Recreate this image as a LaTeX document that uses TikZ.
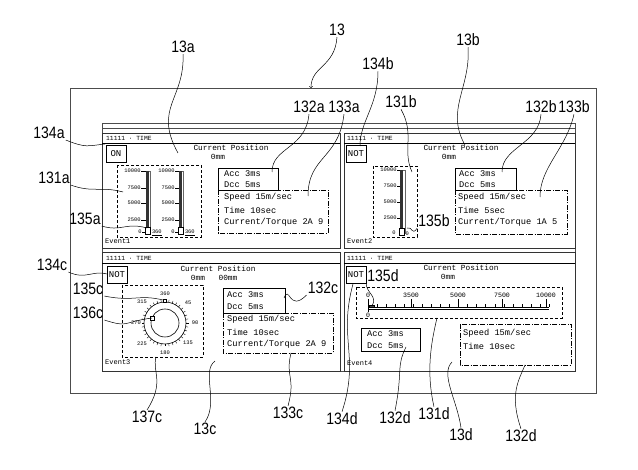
\documentclass[tikz,border=0pt]{standalone}
\usepackage{fontspec}
\setmainfont{Liberation Sans}
\setmonofont{Liberation Mono}
\newfontfamily\lblfont[FakeStretch=0.85]{Liberation Sans}
\begin{document}
\begin{tikzpicture}[x=1pt,y=-1pt,
    lbl/.style={font=\lblfont\fontsize{16.5}{16.5}\selectfont, inner sep=1pt},
    lead/.style={line width=0.5pt},
    frame/.style={line width=0.9pt, black!70},
    win/.style={line width=0.8pt, black!80},
    ttl/.style={font=\ttfamily\fontsize{6.3}{6.5}\selectfont, inner sep=0pt, anchor=west},
    scr/.style={font=\ttfamily\fontsize{7.8}{8}\selectfont, inner sep=0pt},
    txt/.style={font=\ttfamily\fontsize{8.7}{9}\selectfont, inner sep=0pt, anchor=west},
    ev/.style={font=\ttfamily\fontsize{7}{7}\selectfont, inner sep=0pt, anchor=west},
    gl/.style={font=\ttfamily\fontsize{5.4}{5.4}\selectfont, inner sep=0.3pt},
    btn/.style={draw, line width=0.6pt, font=\ttfamily\fontsize{9}{9}\selectfont, inner sep=0pt, minimum width=20pt, minimum height=17pt},
    dashdot/.style={dash pattern=on 5pt off 1.5pt on 1pt off 1.5pt, line width=0.5pt},
    gbox/.style={dash pattern=on 3pt off 2pt, line width=0.5pt}]
    \useasboundingbox (0,0) rectangle (638,470);

    % frames
    \draw[frame] (70,88) rectangle (596,393);
    \draw[frame] (102,123) rectangle (575,371);
    \draw[frame] (102,128) -- (575,128);
    \draw[win] (102,133) rectangle (340,248);
    \draw[win] (344,133) rectangle (575,248);
    \draw[win] (102,252) rectangle (340,371);
    \draw[win] (344,252) rectangle (575,371);

    % window 13a
    \node[ttl] (ta) at (106,138) {11111 · TIME};
    \draw (102,143) -- (340,143);
    \node[btn] (swa) at (116,153.5) {ON};
    \node[scr] (cpa) at (231,148) {Current Position};
    \node[scr] (pa) at (218,157) {0mm};
    \draw[gbox] (117,165) rectangle (201,237);
    \foreach \bx/\lx in {148/141,181/175}{
        \draw[black!60] (\bx-2,171) rectangle (\bx+2,232);
        \fill[black!80] (\bx-2,171) rectangle (\bx+0.5,232);
        \foreach \v/\y in {10000/171,7500/188,5000/203,2500/220}{
            \node[gl,anchor=east] (g\bx-\v) at (\lx,\y) {\v};
            \draw[line width=0.3pt] (\lx,\y) -- (\bx-2,\y);
        }
        \node[gl,anchor=east] (g\bx-0) at (\bx-6,232) {0};
        \draw[line width=0.3pt] (\bx-6,232) -- (\bx-3,232);
        \draw[fill=white, line width=0.4pt] (\bx-2.5,227) rectangle (\bx+2.5,234);
        \node[gl,anchor=west] (g\bx-360) at (\bx+3.5,233) {\underline{360}};
    }
    \draw[line width=0.5pt] (218,168) rectangle (278,190);
    \node[txt] (acca) at (224,174) {Acc 3ms};
    \node[txt] (dcca) at (224,185) {Dcc 5ms};
    \draw[dashdot] (218,190) rectangle (328,233);
    \node[txt] (spa) at (224,197) {Speed 15m/sec};
    \node[txt] (tma) at (224,210) {Time 10sec};
    \node[txt] (cta) at (224,222) {Current/Torque 2A 9};
    \node[ev] (eva) at (105,241) {Event1};

    % window 13b
    \node[ttl] (tb) at (347,138) {11111 · TIME};
    \draw (344,143) -- (575,143);
    \node[btn] (swb) at (356,153.5) {NOT};
    \node[scr] (cpb) at (461,148) {Current Position};
    \node[scr] (pb) at (449,157) {0mm};
    \draw[gbox] (373,166) rectangle (417,237);
    \draw[black!60] (400,170) rectangle (405,233);
    \fill[black!80] (400,170) rectangle (402.5,233);
    \foreach \v/\y in {10000/170,7500/186,5000/202,2500/218}{
        \node[gl,anchor=east] (gb-\v) at (397,\y) {\v};
        \draw[line width=0.3pt] (397,\y) -- (400,\y);
    }
    \node[gl,anchor=east] (gb-0) at (396,233) {0};
    \draw[fill=white, line width=0.4pt] (399.5,228) rectangle (404.5,235);
    \node[gl,anchor=west] (gb-00) at (405,234) {0};
    \draw[line width=0.5pt] (455,168) rectangle (516,190);
    \node[txt] (accb) at (459,174) {Acc 3ms};
    \node[txt] (dccb) at (459,185) {Dcc 5ms};
    \draw[dashdot] (455,190) rectangle (567,234);
    \node[txt] (spb) at (458,197) {Speed 15m/sec};
    \node[txt] (tmb) at (458,210) {Time 5sec};
    \node[txt] (ctb) at (458,222) {Current/Torque 1A 5};
    \node[ev] (evb) at (347,241) {Event2};

    % window 13c
    \node[ttl] (tc) at (106,258) {11111 · TIME};
    \draw (102,263) -- (340,263);
    \node[btn] (swc) at (117,275) {NOT};
    \node[scr] (cpc) at (218,269) {Current Position};
    \node[scr] (pc1) at (198,278) {0mm};
    \node[scr] (pc2) at (228,278) {00mm};
    \draw[gbox] (122,285) rectangle (203,357);
    \draw[line width=0.6pt] (165,323) circle (21);
    \draw[line width=0.6pt] (165,323) circle (14);
    \foreach \a in {0,10,...,350}
        \draw[line width=0.4pt, shift={(165,323)}] (\a:21) -- (\a:23.5);
    \foreach \v/\px/\py in {360/165/294,45/188/303,90/195/323,135/188/343,180/165/353,225/142/344,270/136/323,315/142/302}
        \node[gl] (dc-\v) at (\px,\py) {\v};
    \draw[fill=white, line width=0.4pt] (150,316) rectangle (154.5,320.5);
    \draw[fill=white, line width=0.4pt] (163.5,299) rectangle (166.5,302);
    \draw[line width=0.5pt] (223,288) rectangle (285,313);
    \node[txt] (accc) at (227,295) {Acc 3ms};
    \node[txt] (dccc) at (227,307) {Dcc 5ms};
    \draw[dashdot] (223,313) rectangle (333,353);
    \node[txt] (spc) at (227,319) {Speed 15m/sec};
    \node[txt] (tmc) at (227,332) {Time 10sec};
    \node[txt] (ctc) at (227,344) {Current/Torque 2A 9};
    \node[ev] (evc) at (105,362) {Event3};

    % window 13d
    \node[ttl] (td) at (347,258) {11111 · TIME};
    \draw (344,263) -- (575,263);
    \node[btn] (swd) at (356,275) {NOT};
    \node[scr] (cpd) at (461,268) {Current Position};
    \node[scr] (pd) at (448,277) {0mm};
    \draw[gbox] (356,287) rectangle (562,318);
    \draw[line width=0.5pt] (368,307) -- (549,307);
    \draw[line width=0.5pt] (368,309.5) -- (549,309.5);
    \foreach \t in {0,...,20}
        \draw[line width=0.4pt] (368+\t*9.05,307) -- ++(0,-3);
    \foreach \v/\px in {0/368,3500/411,5000/458,7500/502,10000/546}{
        \node[gl, font=\ttfamily\fontsize{6.6}{6.6}\selectfont] (rd-\v) at (\px,295) {\v};
        \draw[line width=0.4pt] (\px,299) -- (\px,307);
    }
    \draw[line width=0.4pt] (368,307) -- (368,312);
    \node[gl, font=\ttfamily\fontsize{6.6}{6.6}\selectfont] (rd-00) at (368,315) {0};
    \draw[fill=black!70, line width=0.3pt] (369,305) rectangle (374,307);
    \draw[line width=0.5pt] (361,328) rectangle (420,351);
    \node[txt] (accd) at (367,334) {Acc 3ms};
    \node[txt] (dccd) at (367,346) {Dcc 5ms};
    \draw[dashdot] (460,324) rectangle (571,365);
    \node[txt] (spd) at (463,333) {Speed 15m/sec};
    \node[txt] (tmd) at (463,346) {Time 10sec};
    \node[ev] (evd) at (347,363) {Event4};

    % reference numerals
    \node[lbl] (l13) at (337,30) {13};
    \node[lbl] (l13a) at (183,47) {13a};
    \node[lbl] (l13b) at (468,40) {13b};
    \node[lbl] (l134b) at (378,64) {134b};
    \node[lbl] (l132a) at (309,107) {132a};
    \node[lbl] (l133a) at (344,107) {133a};
    \node[lbl] (l131b) at (401,102) {131b};
    \node[lbl] (l132b) at (541,107) {132b};
    \node[lbl] (l133b) at (574,107) {133b};
    \node[lbl] (l134a) at (49,133) {134a};
    \node[lbl] (l131a) at (54,178) {131a};
    \node[lbl] (l135a) at (85,219) {135a};
    \node[lbl] (l135b) at (434,221) {135b};
    \node[lbl] (l134c) at (52,265) {134c};
    \node[lbl] (l135c) at (88,289) {135c};
    \node[lbl] (l136c) at (88,313) {136c};
    \node[lbl] (l132c) at (323,288) {132c};
    \node[lbl] (l135d) at (383,276) {135d};
    \node[lbl] (l137c) at (147,417) {137c};
    \node[lbl] (l13c) at (205,429) {13c};
    \node[lbl] (l133c) at (288,413) {133c};
    \node[lbl] (l134d) at (342,419) {134d};
    \node[lbl] (l132d) at (395,418) {132d};
    \node[lbl] (l131d) at (434,414) {131d};
    \node[lbl] (l13d) at (461,435) {13d};
    \node[lbl] (l132dd) at (521,436) {132d};

    % leader end points
    \coordinate (e13) at (311,88);
    \coordinate (e13a) at (178,153);
    \coordinate (e13b) at (465,145);
    \coordinate (e134b) at (360,146);
    \coordinate (e132a) at (272,172);
    \coordinate (e133a) at (308,196);
    \coordinate (e131b) at (412,172);
    \coordinate (e132b) at (502,172);
    \coordinate (e133b) at (540,197);
    \coordinate (e134a) at (105,144);
    \coordinate (e131a) at (123,192);
    \coordinate (e135a) at (147,228);
    \coordinate (e135b) at (407,228);
    \coordinate (e134c) at (107,274);
    \coordinate (e135c) at (163,300);
    \coordinate (e136c) at (152,318);
    \coordinate (e132c) at (284,298);
    \coordinate (e135d) at (372,306);
    \coordinate (e137c) at (156,357);
    \coordinate (e13c) at (215,361);
    \coordinate (e133c) at (291,353);
    \coordinate (e134d) at (353,284);
    \coordinate (e132d) at (406,347);
    \coordinate (e131d) at (437,318);
    \coordinate (e13d) at (452,362);
    \coordinate (e132dd) at (525,365);

    % leaders
    \draw[lead,->] (l13.south) .. controls +(-2,30) and +(0,-22) .. (e13);
    \draw[lead] (l13a.south) .. controls +(2,45) and +(-25,-45) .. (e13a);
    \draw[lead] (l13b.south) .. controls +(3,40) and +(-20,-35) .. (e13b);
    \draw[lead] (l134b.south) .. controls +(0,35) and +(0,-25) .. (e134b);
    \draw[lead] (l132a.south) .. controls +(-3,35) and +(0,-25) .. (e132a);
    \draw[lead] (l133a.south) .. controls +(-5,45) and +(0,-40) .. (e133a);
    \draw[lead] (l131b.south) .. controls +(14,25) and +(-10,-22) .. (e131b);
    \draw[lead] (l132b.south) .. controls +(-2,30) and +(0,-25) .. (e132b);
    \draw[lead] (l133b.south) .. controls +(-8,35) and +(0,-30) .. (e133b);
    \draw[lead] (l134a.south east) .. controls +(20,8) and +(-18,2) .. (e134a);
    \draw[lead] (l131a.south east) .. controls +(22,8) and +(-22,-6) .. (e131a);
    \draw[lead] (l135a.south east) .. controls +(20,6) and +(-22,-6) .. (e135a);
    \draw[lead] (l135b.south west) .. controls +(-6,8) and +(6,-2) .. (e135b);
    \draw[lead] (l134c.south east) .. controls +(18,8) and +(-15,-4) .. (e134c);
    \draw[lead] (l135c.south east) .. controls +(30,6) and +(-25,-6) .. (e135c);
    \draw[lead] (l136c.south east) .. controls +(25,8) and +(-30,4) .. (e136c);
    \draw[lead] (l132c.south west) .. controls +(-18,18) and +(6,-14) .. (e132c);
    \draw[lead] (l135d.south west) .. controls +(0,10) and +(6,-10) .. (e135d);
    \draw[lead] (l137c.north) .. controls +(18,-28) and +(-4,15) .. (e137c);
    \draw[lead] (l13c.north) .. controls +(14,-20) and +(-14,10) .. (e13c);
    \draw[lead] (l133c.north) .. controls +(8,-30) and +(-6,25) .. (e133c);
    \draw[lead] (l134d.north) .. controls +(18,-55) and +(-15,55) .. (e134d);
    \draw[lead] (l132d.north) .. controls +(8,-40) and +(-10,20) .. (e132d);
    \draw[lead] (l131d.north) .. controls +(-8,-35) and +(-6,25) .. (e131d);
    \draw[lead] (l13d.north) .. controls +(-4,-28) and +(-12,12) .. (e13d);
    \draw[lead] (l132dd.north) .. controls +(-12,-35) and +(-6,15) .. (e132dd);
\end{tikzpicture}
\end{document}
